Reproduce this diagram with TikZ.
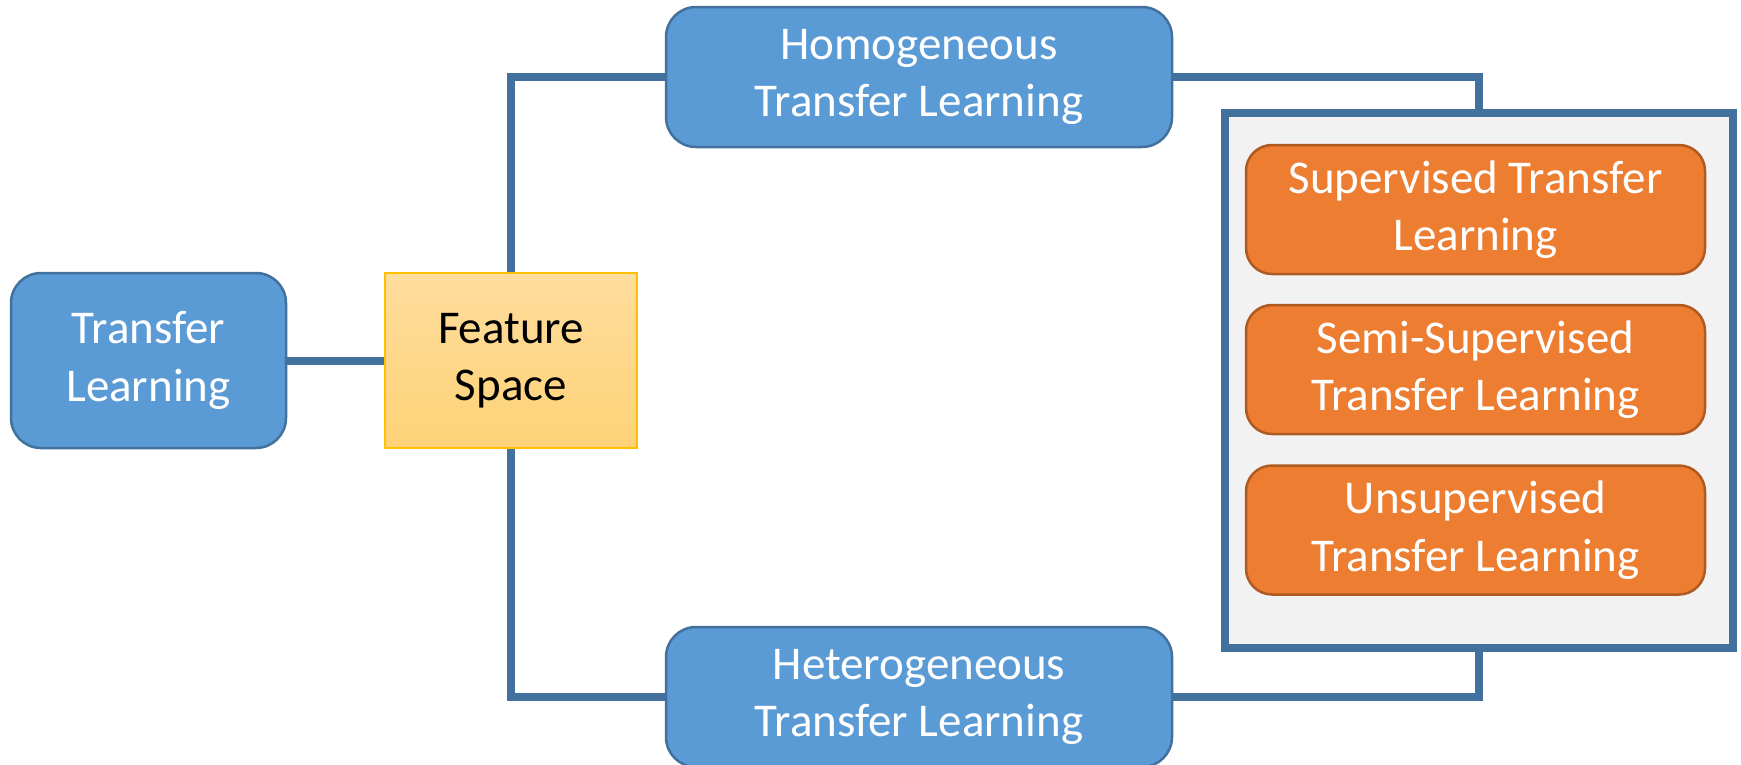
\documentclass[tikz,border=0pt]{standalone}
\usepackage{fontspec}
\setmainfont{Carlito}
\usetikzlibrary{shadings}

\definecolor{boxblue}{HTML}{5B9BD5}
\definecolor{edgeblue}{HTML}{41719C}
\definecolor{linkblue}{HTML}{42719E}
\definecolor{boxorange}{HTML}{ED7D31}
\definecolor{edgeorange}{HTML}{AE5A21}
\definecolor{paneggray}{HTML}{F2F2F2}
\definecolor{goldtop}{HTML}{FEDC9C}
\definecolor{goldbottom}{HTML}{FED277}
\definecolor{goldedge}{HTML}{FFC000}

\tikzset{
  label font/.style={font=\fontsize{47}{57.5}\selectfont, align=center, inner sep=0pt},
  bluebox/.style={label font, rectangle, rounded corners=30pt, fill=boxblue,
    draw=edgeblue, line width=2.5pt, text=white},
  orangebox/.style={label font, rectangle, rounded corners=26pt, fill=boxorange,
    draw=edgeorange, line width=2.5pt, text=white,
    minimum width=459pt, minimum height=129pt},
  goldbox/.style={label font, rectangle, top color=goldtop, bottom color=goldbottom,
    draw=goldedge, line width=1.5pt, text=black},
  panel/.style={rectangle, fill=paneggray, draw=linkblue, line width=8pt,
    inner sep=0pt},
  link/.style={draw=linkblue, line width=8pt, line join=miter}
}

\begin{document}
\begin{tikzpicture}[x=1pt,y=-1pt]
  \useasboundingbox (0,0) rectangle (1741,764);
  \clip (0,0) rectangle (1741,764);

  % right-hand panel holding the three learning settings
  \node[panel, minimum width=508pt, minimum height=535pt] (grp) at (1479,380.5) {};

  % main boxes
  \node[bluebox, minimum width=275pt, minimum height=175pt] (tl) at (148.5,360.5)
    {Transfer\\Learning};
  \node[goldbox, minimum width=252pt, minimum height=175pt] (fs) at (511,360.5)
    {Feature\\Space};
  \node[bluebox, minimum width=506pt, minimum height=140pt] (homo) at (919,77)
    {Homogeneous\\Transfer Learning};
  \node[bluebox, minimum width=506pt, minimum height=140pt] (hetero) at (919,697)
    {Heterogeneous\\Transfer Learning};

  % settings inside the panel
  \node[orangebox] (sup) at (1475.5,209.5) {Supervised Transfer\\Learning};
  \node[orangebox] (semi) at (1475.5,369.5) {Semi-Supervised\\Transfer Learning};
  \node[orangebox] (unsup) at (1475.5,530) {Unsupervised\\Transfer Learning};

  % connectors
  \draw[link] (tl.east) -- (fs.west);
  \draw[link] (fs.north) |- (homo.west);
  \draw[link] (fs.south) |- (hetero.west);
  \draw[link] (homo.east) -| (grp.north);
  \draw[link] (hetero.east) -| (grp.south);
\end{tikzpicture}
\end{document}
